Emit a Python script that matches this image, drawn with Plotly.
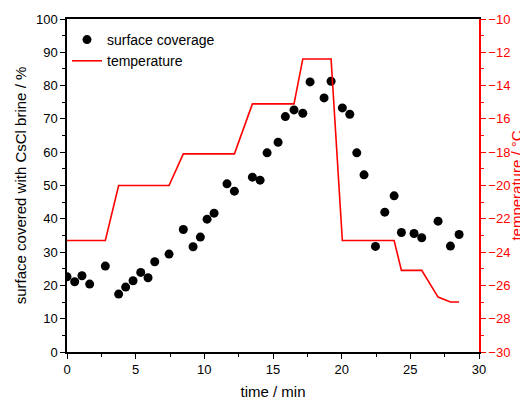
import plotly.graph_objects as go

# surface coverage data
cov_time = [0.0, 0.56, 1.09, 1.65, 2.79, 3.76, 4.27, 4.81, 5.37, 5.90, 6.39, 7.43, 8.47, 9.18,
            9.71, 10.20, 10.71, 11.65, 12.19, 13.5, 14.06, 14.57, 15.37, 15.9, 16.53, 17.17,
            17.70, 18.72, 19.23, 20.05, 20.59, 21.10, 21.63, 22.46, 23.14, 23.82, 24.35,
            25.27, 25.83, 27.02, 27.92, 28.55]
coverage = [22.6, 21.1, 22.9, 20.4, 25.8, 17.4, 19.5, 21.4, 23.9, 22.3, 27.1, 29.4, 36.8, 31.6,
            34.5, 39.9, 41.7, 50.5, 48.3, 52.5, 51.6, 59.8, 63.0, 70.7, 72.7, 71.7,
            81.1, 76.3, 81.3, 73.3, 71.4, 59.8, 53.2, 31.7, 42.0, 46.9, 35.9,
            35.6, 34.3, 39.3, 31.8, 35.3]

# temperature data
temp_time = [0.0, 2.79, 3.76, 7.43, 8.47, 12.19, 13.5, 16.53, 17.17, 19.23, 20.05, 23.82,
             24.35, 25.83, 27.02, 27.92, 28.55]
temperature = [-23.3, -23.3, -20.0, -20.0, -18.1, -18.1, -15.1, -15.1, -12.4, -12.4, -23.3,
               -23.3, -25.1, -25.1, -26.7, -27.0, -27.0]

FONT = "Liberation Sans, Arial, sans-serif"
RED = "#ff0000"

fig = go.Figure()
fig.add_trace(go.Scatter(x=cov_time, y=coverage, mode="markers", name="surface coverage",
                         marker=dict(color="black", size=9, symbol="circle")))
fig.add_trace(go.Scatter(x=temp_time, y=temperature, mode="lines", name="temperature",
                         line=dict(color=RED, width=1.6), yaxis="y2"))

# page has an 8px body margin, so the figure is sized to fill the rest of the window
fig.update_layout(
    width=520, height=393,
    margin=dict(l=59, r=49, t=11, b=49, autoexpand=False),
    paper_bgcolor="white", plot_bgcolor="white",
    font=dict(family=FONT, size=13, color="black"),
    showlegend=True,
    legend=dict(x=0.0, y=0.985, xanchor="left", yanchor="top", bgcolor="rgba(0,0,0,0)",
                font=dict(size=14), tracegroupgap=0, itemwidth=30),
    xaxis=dict(range=[0, 30], dtick=5, tick0=0, showline=True, linecolor="black", linewidth=1.5,
               mirror=True, ticks="outside", ticklen=5, tickwidth=1.2, tickcolor="black",
               minor=dict(ticks="outside", dtick=2.5, ticklen=3, tickcolor="black"),
               showgrid=False, zeroline=False, automargin=False,
               title=dict(text="time / min", font=dict(size=15), standoff=10)),
    yaxis=dict(range=[0, 100], dtick=10, tick0=0, showline=True, linecolor="black", linewidth=1.5,
               ticks="outside", ticklen=5, tickwidth=1.2, tickcolor="black",
               minor=dict(ticks="outside", dtick=5, ticklen=3, tickcolor="black"),
               showgrid=False, zeroline=False, automargin=False,
               title=dict(text="surface covered with CsCl brine / %", font=dict(size=15), standoff=6)),
    yaxis2=dict(range=[-30, -10], dtick=2, tick0=-30, overlaying="y", side="right",
                showline=True, linecolor=RED, linewidth=1.5,
                ticks="outside", ticklen=5, tickwidth=1.2, tickcolor=RED,
                minor=dict(ticks="outside", dtick=1, ticklen=3, tickcolor=RED),
                tickfont=dict(color=RED, size=13), showgrid=False, zeroline=False, automargin=False),
    annotations=[dict(text="temperature / °C", xref="paper", yref="paper", x=1.09, y=0.5,
                      xanchor="center", yanchor="middle", textangle=-90, showarrow=False,
                      font=dict(size=15, color=RED))],
)

fig.write_html("out.html")
